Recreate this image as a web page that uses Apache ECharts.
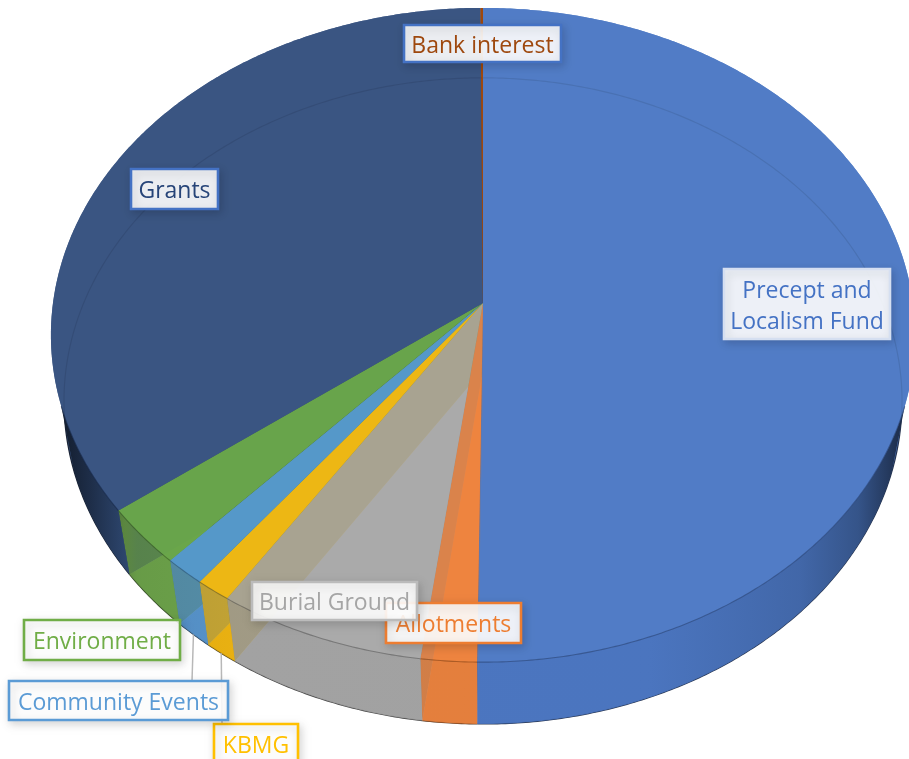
<!DOCTYPE html>
<html>
<head>
<meta charset="utf-8">
<style>html,body{margin:0;padding:0;background:#fff;overflow:hidden}#c{width:909px;height:759px}</style>
<script src="https://cdn.jsdelivr.net/npm/echarts@6/dist/echarts.min.js"></script>
</head>
<body>
<div id="c"></div>
<script>
// ---- data (share of income, %) ----
const categories = ['Precept and Localism Fund','Allotments','Burial Ground','KBMG','Community Events','Environment','Grants','Bank interest'];
const shares = [50.2, 1.9, 7.1, 1.2, 1.4, 2.9, 35.2, 0.1];

// ---- styles ----
const faceColors = ['#517CC6','#EE8440','#A9A9A9','#F1B910','#5698CC','#6AA64A','#3A5582','#9E480E'];
const faceAlpha = [0.85,0.82,0.82,0.98,0.98,0.98,0.86,1];
const sideColors = ['#4A74BE','#E27E3C','#A0A0A0','#E6AE12','#5690C8','#6CA04A','#34507E','#9E480E'];
const innerWallColors = ['#3B5FA0','#B85F20','#7F7F7F','#A38521','#3D77AE','#4E8030','#1F3560','#7A380B'];
const labelTextColors = ['#4472C4','#ED7D31','#A5A5A5','#FFC000','#5B9BD5','#70AD47','#264478','#9E480E'];
const labelBorderColors = ['#D5DFF1','#ED7D31','#BBBBBB','#FFC000','#5B9BD5','#70AD47','#4472C4','#4472C4'];
const labelText = ['Precept and\nLocalism Fund','Allotments','Burial Ground','KBMG','Community Events','Environment','Grants','Bank interest'];
// layout of the callouts: x, y, w, h
const labelBoxes = [[724,269,166,70],[386,603,135,40],[252,582,165,38],[214,724,84,40],[9,681,219,39],[24,620,156,40],[131,169,87,40],[404,25,157,37]];
const leaderTargets = {3:[222,723], 4:[192,681]};

// ---- projection of the tilted disc ----
const persp = 0.0979;
const topDisc = {cx:483, cy:303, a:430, b:324};
const floorDisc = {cx:483, cy:369.3, a:417, b:320};
const total = shares.reduce((s,v)=>s+v,0);
const edges = [0];
shares.forEach(v=>edges.push(edges[edges.length-1]+v/total*360));
const rad = d=>d*Math.PI/180;
function project(disc,deg){
  const u=Math.sin(rad(deg)), v=-Math.cos(rad(deg)), w=1-persp*v;
  return [disc.cx+disc.a*u/w, disc.cy+disc.b*v/w];
}
function arc(disc,from,to){
  const n=Math.max(2,Math.ceil(Math.abs(to-from)/0.5)), pts=[];
  for(let i=0;i<=n;i++) pts.push(project(disc,from+(to-from)*i/n));
  return pts;
}
function shade(hex,f,alpha){
  const n=parseInt(hex.slice(1),16);
  return `rgba(${Math.round((n>>16&255)*f)},${Math.round((n>>8&255)*f)},${Math.round((n&255)*f)},${alpha})`;
}
function sideFill(hex){
  const x0=floorDisc.cx-floorDisc.a, x1=floorDisc.cx+floorDisc.a;
  return new echarts.graphic.LinearGradient(x0,0,x1,0,[
    {offset:0,color:shade(hex,0.4,1)},
    {offset:0.03,color:shade(hex,0.58,1)},
    {offset:0.07,color:shade(hex,0.85,0.98)},
    {offset:0.085,color:shade(hex,0.95,0.78)},
    {offset:0.2,color:shade(hex,1,0.78)},
    {offset:0.7,color:shade(hex,1,0.88)},
    {offset:0.88,color:shade(hex,0.88,0.96)},
    {offset:0.95,color:shade(hex,0.72,1)},
    {offset:0.985,color:shade(hex,0.5,1)},
    {offset:1,color:shade(hex,0.4,1)}
  ],true);
}
const FRONT_FROM=108, FRONT_TO=252;

const layers = {
  base(i){
    return {type:'polygon',shape:{points:[[topDisc.cx,topDisc.cy],...arc(topDisc,edges[i],edges[i+1])]},style:{fill:faceColors[i]}};
  },
  floor(i){
    const a=edges[i], b=edges[i+1], rim=arc(floorDisc,a,b);
    return {type:'group',children:[
      {type:'polygon',shape:{points:[[floorDisc.cx,floorDisc.cy],...rim]},style:{fill:faceColors[i]}},
      {type:'polyline',shape:{points:rim},style:{fill:null,stroke:shade(innerWallColors[i],0.4,0.9),lineWidth:1.2}}
    ]};
  },
  innerWall(i){
    const a=edges[i];
    if(a<180||a>=360) return {type:'group',children:[]};
    const p=project(topDisc,a), q=project(floorDisc,a);
    return {type:'polygon',shape:{points:[[topDisc.cx,topDisc.cy],p,q,[floorDisc.cx,floorDisc.cy]]},
      style:{fill:innerWallColors[i]}};
  },
  side(i){
    const a=Math.max(edges[i],FRONT_FROM), b=Math.min(edges[i+1],FRONT_TO);
    if(b<=a) return {type:'group',children:[]};
    return {type:'polygon',shape:{points:[...arc(topDisc,a,b),...arc(floorDisc,b,a)]},
      style:{fill:sideFill(sideColors[i])}};
  },
  top(i){
    const a=edges[i], b=edges[i+1], rim=arc(topDisc,a,b);
    const kids=[{type:'polygon',shape:{points:[[topDisc.cx,topDisc.cy],...rim]},style:{fill:shade(faceColors[i],1,faceAlpha[i])}}];
    const fa=Math.max(a,FRONT_FROM), fb=Math.min(b,FRONT_TO);
    if(fb>fa) kids.push({type:'polyline',shape:{points:arc(topDisc,fa,fb)},style:{fill:null,stroke:shade(innerWallColors[i],0.75,0.65),lineWidth:1.1}});
    return {type:'group',children:kids};
  },
  leader(i){
    const t=leaderTargets[i];
    if(!t) return {type:'group',children:[]};
    const s=project(floorDisc,(edges[i]+edges[i+1])/2);
    return {type:'line',shape:{x1:s[0],y1:s[1],x2:t[0],y2:t[1]},style:{stroke:'#B8B8B8',lineWidth:1.5}};
  },
  label(i){
    const [x,y,w,h]=labelBoxes[i];
    return {type:'group',children:[
      {type:'rect',shape:{x,y,width:w,height:h},style:{fill:'rgba(255,255,255,0.9)',stroke:labelBorderColors[i],lineWidth:2.6,
        shadowBlur:8,shadowColor:'rgba(0,0,0,0.16)',shadowOffsetX:2,shadowOffsetY:3}},
      {type:'text',style:{x:x+w/2,y:y+h/2+2.5,text:labelText[i],fill:labelTextColors[i],align:'center',verticalAlign:'middle',
        font:'23px "Open Sans"',lineHeight:31}}
    ]};
  }
};

function layerSeries(name,z,order){
  const ids=order||categories.map((_,i)=>i);
  return {type:'custom',name,coordinateSystem:'none',silent:true,z,animation:false,clip:false,
    data:ids.map(i=>({name:categories[i],value:[shares[i],i]})),
    renderItem:(params,api)=>layers[name](api.value(1))};
}

const chart=echarts.init(document.getElementById('c'),null,{renderer:'canvas'});
chart.setOption({
  animation:false,
  backgroundColor:'#fff',
  series:[
    layerSeries('base',0),
    layerSeries('floor',1),
    layerSeries('innerWall',2,[7,6,5,4,3,2,1,0]),
    layerSeries('side',3),
    layerSeries('top',4),
    layerSeries('leader',5),
    layerSeries('label',6)
  ]
});
</script>
</body>
</html>
